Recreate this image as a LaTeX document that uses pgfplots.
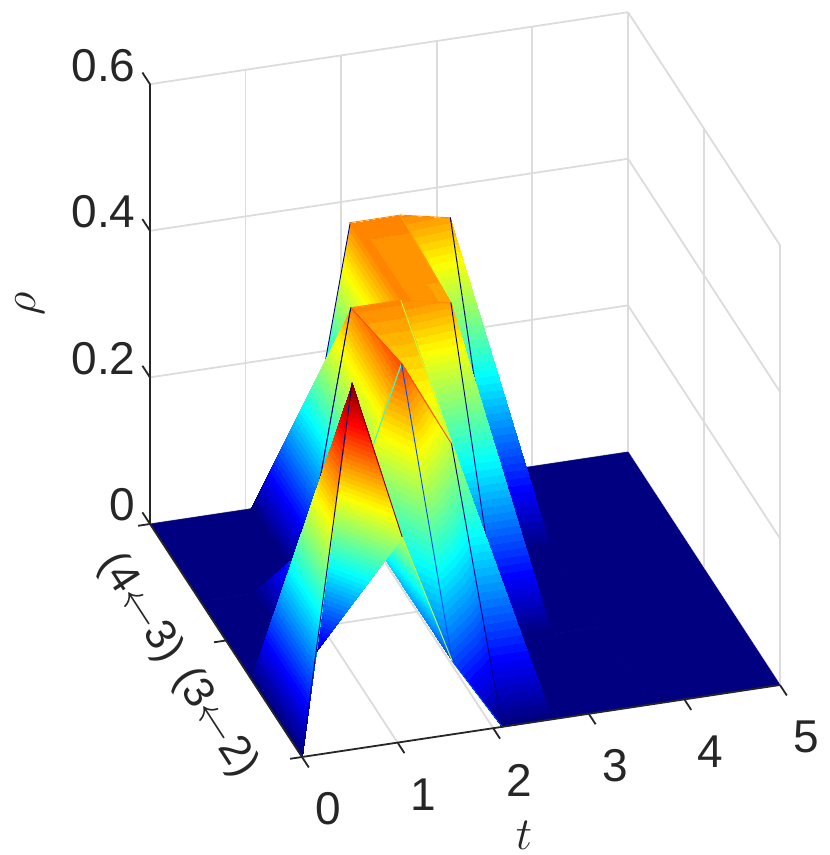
\RequirePackage{fix-cm}
\documentclass[border=0pt]{standalone}
\usepackage{fontspec}
\setmainfont{Liberation Sans}
\usepackage{pgfplots}
\pgfplotsset{compat=1.18}
\definecolor{axc}{HTML}{262626}
\definecolor{grc}{HTML}{DCDCDC}
\definecolor{c0}{rgb}{0,0,.5}
\definecolor{c0.10}{rgb}{0,.3,1}
\definecolor{c0.213}{rgb}{.2,1,.8}
\definecolor{c0.28}{rgb}{.74,1,.26}
\definecolor{c0.356}{rgb}{1,.65,0}
\definecolor{c0.37}{rgb}{1,.54,0}
\definecolor{c0.40}{rgb}{1,.3,0}
\definecolor{c0.5}{rgb}{.5,0,0}
\pgfplotsset{edge/.style={line width=.9pt,no marks,line cap=round},
 tri/.style={patch,patch type=triangle,shader=interp,point meta=z}}
% #1 #2 = t range, #3 #4 = s range, #5..#8 = rho at (t0,s0) (t1,s0) (t0,s1) (t1,s1)
\newcommand{\Q}[8]{%
 \addplot3[tri] coordinates {(#2,#3,#6)(#2,#4,#8)(#1,#4,#7)};
 \addplot3[edge,color=c#7] coordinates {(#1,#4,#7)(#2,#4,#8)};
 \addplot3[edge,color=c#6] coordinates {(#2,#3,#6)(#2,#4,#8)};
 \addplot3[tri] coordinates {(#1,#3,#5)(#2,#3,#6)(#1,#4,#7)};
 \addplot3[edge,color=c#5] coordinates {(#1,#3,#5)(#2,#3,#6)};
 \addplot3[edge,color=c#5] coordinates {(#1,#3,#5)(#1,#4,#7)};
}
\newcommand{\F}[4]{%
 \addplot3[patch,patch type=rectangle,shader=faceted,faceted color=c0,fill=c0,point meta=z,line width=.5pt] coordinates {
 (#1,#3,0)(#2,#3,0)(#2,#4,0)(#1,#4,0)};
}
\newcommand{\G}[2]{\draw[draw=grc,line width=1.8pt] (axis cs:#1) -- (axis cs:#2);}
\newcommand{\A}[2]{\draw[draw=axc,line width=1.8pt] (axis cs:#1) -- (axis cs:#2);}
\begin{document}
\begin{tikzpicture}
\begin{axis}[
 x={(95.6pt,14.4pt)},y={(-152pt,233pt)},z={(0pt,733pt)},
 xmin=0,xmax=5,ymin=0,ymax=1,zmin=0,zmax=0.6,
 colormap/jet,
 colormap={jet64}{samples of colormap=(64 of jet)},
 colormap access=piecewise constant,
 point meta min=0,point meta max=0.5,
 clip=false,
 xtick={0,1,2,3,4,5},ytick={0,0.5,1},ztick={0,0.2,0.4,0.6},
 yticklabels={},
 zticklabels={0,0.2,0.4,0.6},
 axis line style={draw=none},
 tick style={draw=none},
 every tick label/.append style={font=\fontsize{46}{46}\selectfont,text=axc},
 xticklabel style={anchor=center,xshift=26pt,yshift=-52pt},
 zticklabel style={anchor=east,xshift=-11pt,yshift=19pt},
 /pgf/number format/assume math mode=true,
 xlabel={$t$},zlabel={$\rho$},
 every axis x label/.style={at={(axis cs:2.322,0,-0.152)},anchor=center,inner sep=0pt,font=\fontsize{46}{46}\selectfont,text=axc},
 every axis z label/.style={at={(axis cs:-2.84,0,0.674)},anchor=center,inner sep=0pt,rotate=90,font=\fontsize{46}{46}\selectfont,text=axc},
 z buffer=none,
]
% back walls and floor grid
\G{1,0,0}{1,1,0}\G{2,0,0}{2,1,0}\G{3,0,0}{3,1,0}\G{4,0,0}{4,1,0}
\G{0,0.5,0}{5,0.5,0}\G{0,1,0}{5,1,0}\G{5,0,0}{5,1,0}
\G{1,1,0}{1,1,0.6}\G{2,1,0}{2,1,0.6}\G{3,1,0}{3,1,0.6}\G{4,1,0}{4,1,0.6}\G{5,1,0}{5,1,0.6}
\G{0,1,0.2}{5,1,0.2}\G{0,1,0.4}{5,1,0.4}\G{0,1,0.6}{5,1,0.6}
\G{5,0,0}{5,0,0.6}\G{5,0.5,0}{5,0.5,0.6}
\G{5,0,0.2}{5,1,0.2}\G{5,0,0.4}{5,1,0.4}\G{5,0,0.6}{5,1,0.6}
% surface, back to front
\F{3.6652}{5}{0}{1}
\Q{3.1416}{3.6652}{0.6667}{1}{0}{0}{0.356}{0}
\Q{2.618}{3.1416}{0.6667}{1}{0.356}{0}{0.37}{0.356}
\Q{2.0944}{2.618}{0.6667}{1}{0.37}{0.356}{0.37}{0.37}
\Q{1.5708}{2.0944}{0.6667}{1}{0.37}{0.37}{0}{0.37}
\Q{1.0472}{1.5708}{0.6667}{1}{0}{0.37}{0}{0}
\F{0}{1.0472}{0.6667}{1}
\F{3.1416}{3.6652}{0.3333}{0.6667}
\Q{2.618}{3.1416}{0.3333}{0.6667}{0}{0}{0.356}{0}
\Q{2.0944}{2.618}{0.3333}{0.6667}{0.28}{0}{0.37}{0.356}
\Q{1.5708}{2.0944}{0.3333}{0.6667}{0.40}{0.28}{0.37}{0.37}
\Q{1.0472}{1.5708}{0.3333}{0.6667}{0.213}{0.40}{0}{0.37}
\Q{0.5236}{1.0472}{0.3333}{0.6667}{0}{0.213}{0}{0}
\F{0}{0.5236}{0.3333}{0.6667}
\F{2.618}{3.6652}{0}{0.3333}
\Q{2.0944}{2.618}{0}{0.3333}{0}{0}{0.28}{0}
\Q{1.5708}{2.0944}{0}{0.3333}{0.10}{0}{0.40}{0.28}
\Q{1.0472}{1.5708}{0}{0.3333}{0.28}{0.10}{0.213}{0.40}
\Q{0.5236}{1.0472}{0}{0.3333}{0.5}{0.28}{0}{0.213}
\Q{0}{0.5236}{0}{0.3333}{0}{0.5}{0}{0}
% axes and ticks
\A{0,0,0}{5,0,0}\A{0,0,0}{0,1,0}\A{0,1,0}{0,1,0.6}
\A{0,0,0}{0,-0.045,0}\A{1,0,0}{1,-0.045,0}\A{2,0,0}{2,-0.045,0}\A{3,0,0}{3,-0.045,0}\A{4,0,0}{4,-0.045,0}\A{5,0,0}{5,-0.045,0}
\A{0,0,0}{-0.125,0,0}\A{0,0.5,0}{-0.125,0.5,0}\A{0,1,0}{-0.125,1,0}
\A{0,1,0}{0,1.05,0}\A{0,1,0.2}{0,1.05,0.2}\A{0,1,0.4}{0,1.05,0.4}\A{0,1,0.6}{0,1.05,0.6}
\node[rotate=-57,font=\fontsize{43}{43}\selectfont,text=axc,inner sep=0pt] at (axis cs:-1.695,0,0.2366) {(4$\leftarrow$3)};
\node[rotate=-57,font=\fontsize{43}{43}\selectfont,text=axc,inner sep=0pt] at (axis cs:-0.91,0,0.0643) {(3$\leftarrow$2)};
\path (axis cs:-3.159,0,1.0948) (axis cs:5.523,0,-0.2422);
\end{axis}
\end{tikzpicture}
\end{document}
